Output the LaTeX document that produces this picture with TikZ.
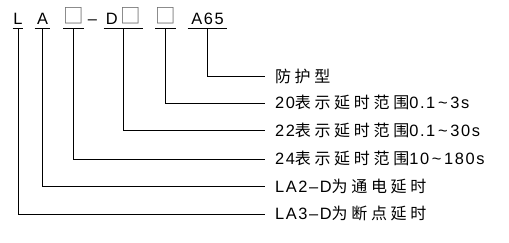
\documentclass[tikz,border=0pt]{standalone}
\usepackage{fontspec}
\setmainfont{Liberation Sans}[LetterSpace=10]
\newfontfamily\cjk{Noto Sans CJK SC}[LetterSpace=23]
\newfontfamily\boxfont{Noto Sans CJK SC}

\begin{document}
\begin{tikzpicture}[x=1pt,y=-1pt,line width=0.8pt,
  code/.style={inner xsep=0pt,inner ysep=3pt,text height=12pt,text depth=0pt,
    anchor=south,font=\fontsize{16.4}{17}\selectfont},
  note/.style={inner xsep=0pt,inner ysep=0pt,outer xsep=10pt,text height=11.7pt,
    text depth=0pt,anchor=west,font=\fontsize{16.4}{17}\selectfont}]
\newcommand\emptybox{\raisebox{1.5pt}{\boxfont\fontsize{20.5}{21}\selectfont\textcolor{black!60}{□}}}
\newcommand\zh[1]{{\cjk\fontsize{16}{17}\selectfont#1}}
\useasboundingbox (0,0) rectangle (509,242);
\node[code,minimum width=10pt] (cL) at (18,28.3) {L};
\node[code,minimum width=15pt] (cA) at (42.5,28.3) {A};
\node[code,minimum width=17.7pt] (cBox) at (73.8,28.3) {\emptybox};
\node[code] (cDash) at (92.5,28.3) {–};
\node[code,minimum width=38.4pt] (cD) at (123.3,28.3) {D\,\emptybox};
\node[code,minimum width=19pt] (cBoxB) at (165.8,28.3) {\emptybox};
\node[code,minimum width=39pt] (cA65) at (207.5,28.3) {A65};
\foreach \c in {cL,cA,cBox,cD,cBoxB,cA65}
  \draw (\c.south west) -- (\c.south east);
\foreach \src/\dst/\y/\txt in {cA65/tFp/76.7/\zh{防护型},
    cBoxB/tTwenty/103/20\zh{表示延时范围}0.1\,\textasciitilde\,3s,
    cD/tTwentyTwo/130.7/22\zh{表示延时范围}0.1\,\textasciitilde\,30s,
    cBox/tTwentyFour/159/24\zh{表示延时范围}10\,\textasciitilde\,180s,
    cA/tLAtwo/186.7/LA2–D\zh{为通电延时},
    cL/tLAthree/214/LA3–D\zh{为断点延时}} {
  \node[note] (\dst) at (265,\y) {\txt};
  \draw (\src.south) |- (\dst.west);
}
\end{tikzpicture}
\end{document}
